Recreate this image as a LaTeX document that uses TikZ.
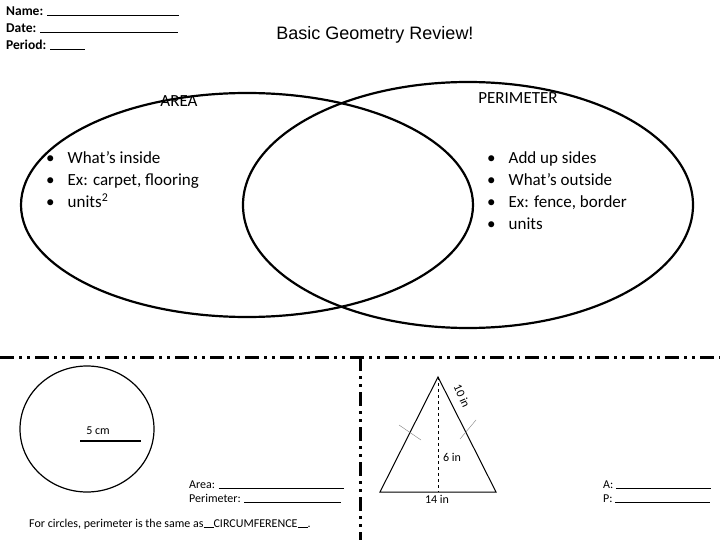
\documentclass[tikz,border=0pt]{standalone}
\usepackage{fontspec}
\setmainfont{Carlito}
\newfontfamily\arialf{Liberation Sans}
\begin{document}
\begin{tikzpicture}[x=1pt,y=-1pt,
  dd/.style={line width=3pt,dash pattern=on 14pt off 5pt on 3pt off 5pt on 3pt off 5pt},
  ell/.style={line width=2.2pt},
  txt/.style={font=\fontsize{17}{22}\selectfont,anchor=west,inner sep=0},
  hd/.style={font=\bfseries\fontsize{13.5}{15}\selectfont,anchor=west,inner sep=0},
  sm/.style={font=\fontsize{12}{14}\selectfont,inner sep=0}]
\useasboundingbox (0,0) rectangle (720,540);
\node[hd] (nm) at (6,11) {Name: \rule{132pt}{0.7pt}};
\node[hd] (dt) at (6,28) {Date: \rule{138pt}{0.7pt}};
\node[hd] (pd) at (6,45) {Period: \rule{35pt}{0.7pt}};
\node[font=\arialf\fontsize{18}{20}\selectfont] (title) at (375,35) {Basic Geometry Review!};
\draw[ell] (247,205) ellipse [x radius=226,y radius=112];
\draw[ell] (468,205) ellipse [x radius=225,y radius=123];
\node[font=\fontsize{17}{19}\selectfont] (area) at (179,101) {AREA};
\node[font=\fontsize{17}{19}\selectfont] (per) at (518,98) {PERIMETER};
\node[txt,align=left] (al) at (46,180) {\textbullet\hspace{13pt}What’s inside\\\textbullet\hspace{13pt}Ex: carpet, flooring\\\textbullet\hspace{13pt}units\textsuperscript{2}};
\node[txt,align=left] (pl) at (487,191) {\textbullet\hspace{13pt}Add up sides\\\textbullet\hspace{13pt}What’s outside\\\textbullet\hspace{13pt}Ex: fence, border\\\textbullet\hspace{13pt}units};
\coordinate (hl) at (0,357); \coordinate (hr) at (720,357);
\coordinate (vt) at (360,357); \coordinate (vb) at (360,540);
\draw[dd] (hl) -- (hr);
\draw[dd] (vt) -- (vb);
% circle
\draw[line width=1.2pt] (87,429) ellipse [x radius=67,y radius=63];
\coordinate (r1) at (80,441); \coordinate (r2) at (141,441);
\draw[line width=2.5pt] (r1) -- (r2);
\node[sm] (cm) at (98,431) {5 cm};
\node[sm,anchor=west,align=left] (ap) at (189,492) {Area: \rule{125pt}{0.5pt}\\Perimeter: \rule{97pt}{0.5pt}};
\node[sm,anchor=west] (circ) at (29,524) {For circles, perimeter is the same as\rule{10pt}{0.5pt}CIRCUMFERENCE\rule{10pt}{0.5pt}.};
% triangle
\coordinate (A) at (438,377); \coordinate (B) at (380,492); \coordinate (C) at (496,492); \coordinate (D) at (438,492);
\draw[line width=1pt] (A) -- (B) -- (C) -- cycle;
\draw[dashed,line width=0.8pt] (A) -- (D);
\draw[gray] (399,425) -- (421,440);
\draw[gray] (476,420) -- (460,439);
\node[sm,rotate=-66] (ten) at (462,396) {10 in};
\node[sm] (six) at (452,457) {6 in};
\node[sm] (ft) at (437,499) {14 in};
\node[sm,anchor=west,align=left] (ap2) at (603,492) {A: \rule{95pt}{0.5pt}\\P: \rule{95pt}{0.5pt}};
\end{tikzpicture}
\end{document}
